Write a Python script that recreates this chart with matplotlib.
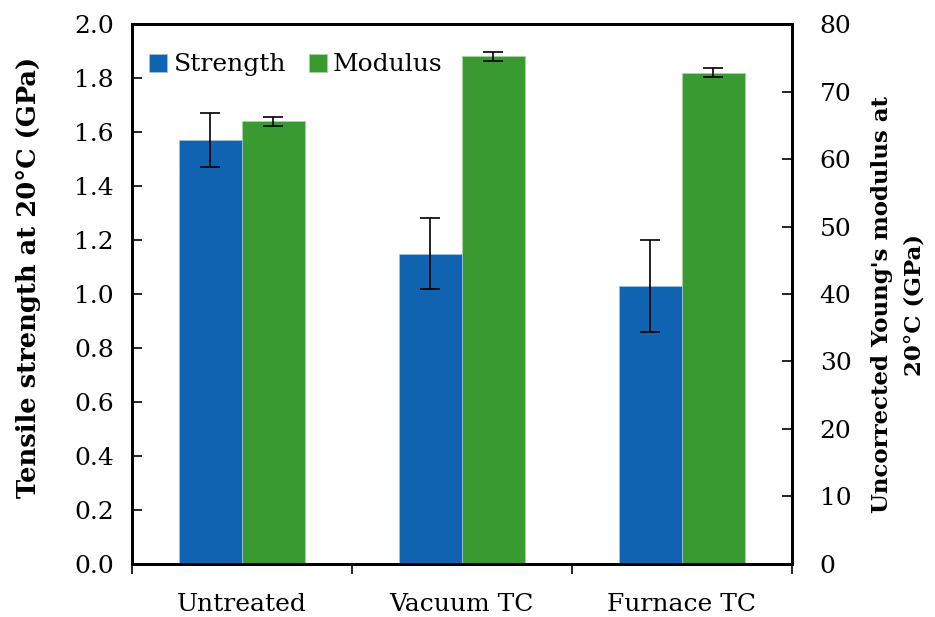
import matplotlib
matplotlib.use("Agg")
import matplotlib.pyplot as plt
import numpy as np

categories = ["Untreated", "Vacuum TC", "Furnace TC"]
strength = [1.57, 1.15, 1.03]
strength_err = [0.10, 0.13, 0.17]
modulus = [65.6, 75.2, 72.8]
modulus_err = [0.7, 0.7, 0.7]

plt.rcParams['font.family'] = ['DejaVu Serif']

blue = "#1063B1"
green = "#3A9A32"

fig = plt.figure(figsize=(9.35, 6.17), dpi=100)
ax = fig.add_axes([0.141, 0.086, 0.706, 0.875])
ax2 = ax.twinx()

x = np.arange(len(categories))
w = 0.286
ax.bar(x - w/2, strength, w, color=blue, edgecolor="#9fc0e0", linewidth=0.6,
       yerr=strength_err, capsize=7, error_kw=dict(ecolor="black", elinewidth=1.2, capthick=1.2),
       label="Strength", zorder=2)
ax2.bar(x + w/2, modulus, w, color=green, edgecolor="#a8d4a0", linewidth=0.6,
        yerr=modulus_err, capsize=7, error_kw=dict(ecolor="black", elinewidth=1.2, capthick=1.2),
        label="Modulus", zorder=2)

ax.set_xlim(-0.5, 2.5)
ax.set_ylim(0, 2.0)
ax2.set_ylim(0, 80)
ax.set_yticks(np.arange(0, 2.01, 0.2))
ax.set_yticklabels([f"{v:.1f}" for v in np.arange(0, 2.01, 0.2)])
ax2.set_yticks(np.arange(0, 81, 10))

ax.set_xticks(x)
ax.set_xticklabels(categories)
ax.set_xticks([-0.5, 0.5, 1.5, 2.5], minor=True)
ax.tick_params(axis='x', which='major', length=0, pad=21, labelsize=18)
ax.tick_params(axis='x', which='minor', length=7, width=1.2, direction='out')
ax.tick_params(axis='y', direction='in', length=7, width=1.2, labelsize=18, pad=13)
ax2.tick_params(axis='y', direction='in', length=7, width=1.2, labelsize=18, pad=20)

for a in (ax, ax2):
    for s in a.spines.values():
        s.set_linewidth(2)

ax.set_ylabel("Tensile strength at 20°C (GPa)", fontsize=18.5, fontweight='bold',
              labelpad=24, y=0.53)
ax2.set_ylabel("Uncorrected Young's modulus at\n20°C (GPa)", fontsize=16.5, fontweight='bold',
               labelpad=14, linespacing=1.6, y=0.48)

h1, l1 = ax.get_legend_handles_labels()
h2, l2 = ax2.get_legend_handles_labels()
ax.legend(h1 + h2, l1 + l2, loc='upper left', ncol=2, frameon=False, fontsize=18,
          handlelength=0.72, handleheight=0.72, handletextpad=0.25, columnspacing=0.9,
          bbox_to_anchor=(0.0, 0.978), borderaxespad=0.3)
ax.set_zorder(ax2.get_zorder() + 1)
ax.patch.set_visible(False)

fig.savefig("out.png", dpi=100)
